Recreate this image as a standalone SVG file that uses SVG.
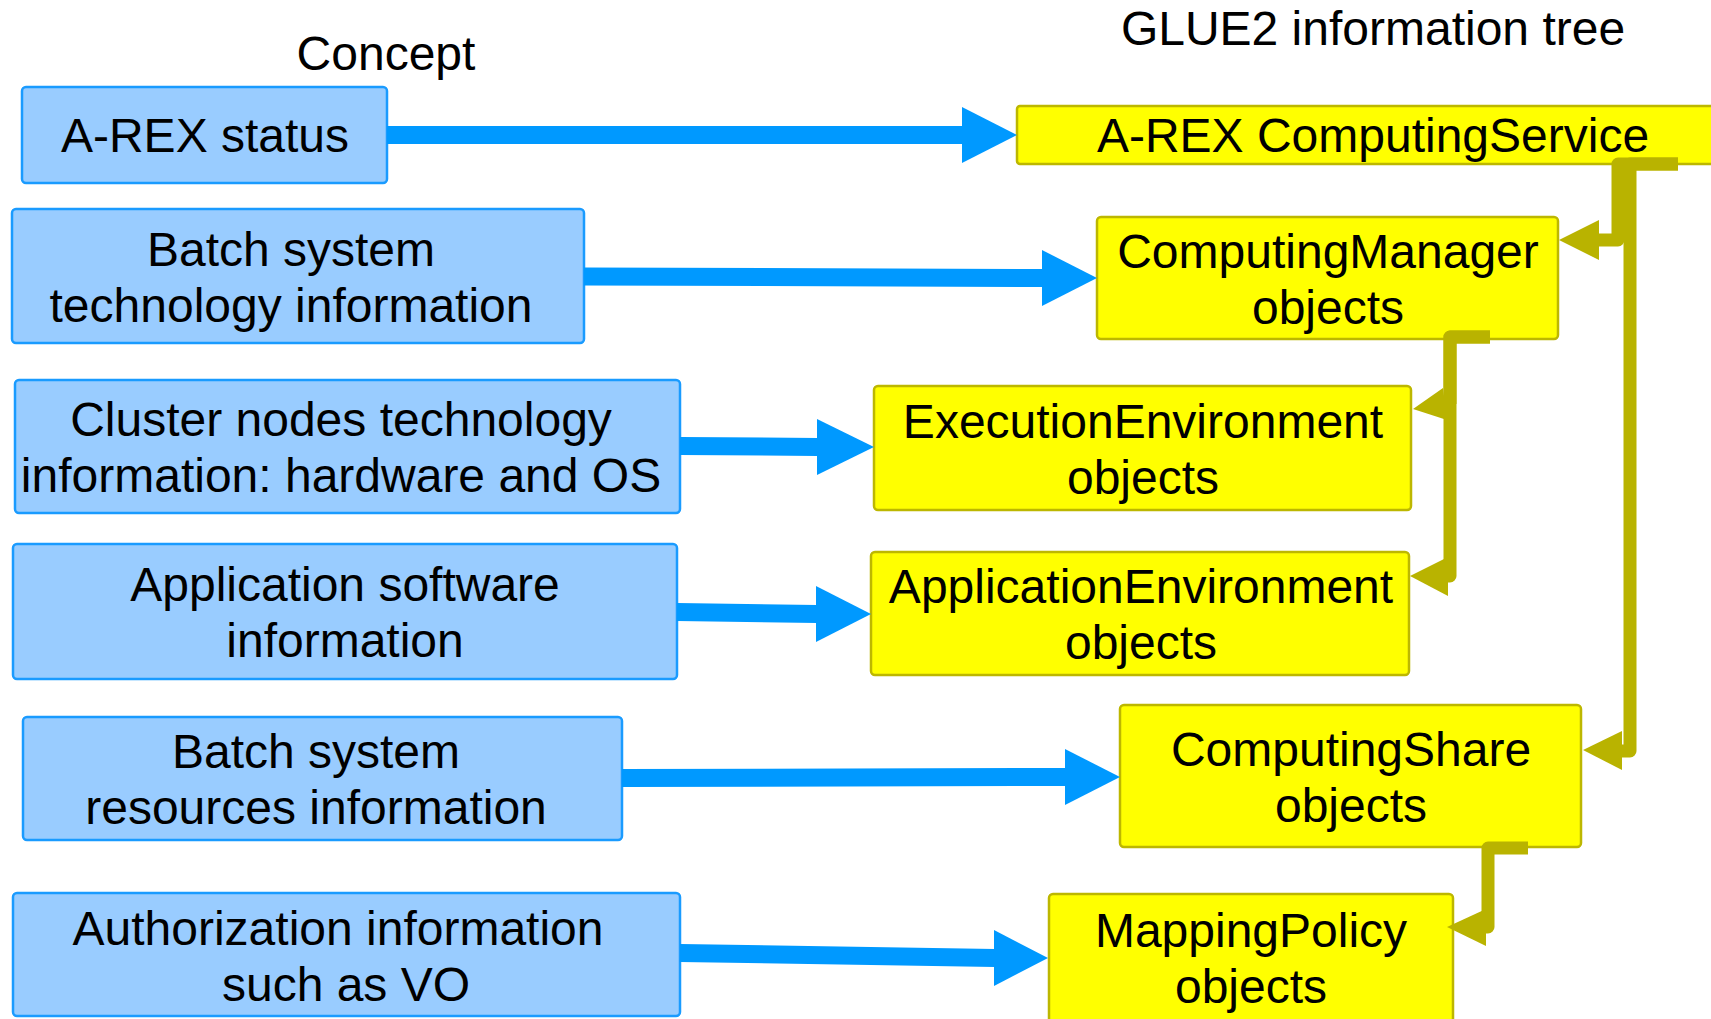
<svg xmlns="http://www.w3.org/2000/svg" width="1711" height="1019" viewBox="0 0 1711 1019">
  <style>
    text { font-family: "Liberation Sans", Arial, sans-serif; font-size: 48px; fill: #000; text-anchor: middle; }
    .concept { fill: #99CCFF; stroke: #1A9BFF; stroke-width: 2.5; }
    .glue { fill: #FFFF00; stroke: #BDB700; stroke-width: 2.5; }
    .flow { stroke: #0099FF; stroke-width: 18; fill: none; }
    .flowhead { fill: #0099FF; }
    .tree { stroke: #B9B300; stroke-width: 13; fill: none; stroke-linejoin: round; }
    .treehead { fill: #B9B300; }
  </style>
  <rect width="1711" height="1019" fill="#FFFFFF"/>

  <!-- column headings -->
  <g id="headings">
    <text x="386" y="70">Concept</text>
    <text x="1373" y="45">GLUE2 information tree</text>
  </g>

  <!-- concept boxes (left column) -->
  <g id="arex-status">
    <rect class="concept" x="22" y="87" width="365" height="96" rx="4"/>
    <text x="205" y="152">A-REX status</text>
  </g>
  <g id="batch-tech">
    <rect class="concept" x="12" y="209" width="572" height="134" rx="4"/>
    <text x="291" y="266">Batch system</text>
    <text x="291" y="322">technology information</text>
  </g>
  <g id="cluster-nodes">
    <rect class="concept" x="15" y="380" width="665" height="133" rx="4"/>
    <text x="341" y="436">Cluster nodes technology</text>
    <text x="341" y="492">information: hardware and OS</text>
  </g>
  <g id="app-software">
    <rect class="concept" x="13" y="544" width="664" height="135" rx="4"/>
    <text x="345" y="601">Application software</text>
    <text x="345" y="657">information</text>
  </g>
  <g id="batch-resources">
    <rect class="concept" x="23" y="717" width="599" height="123" rx="4"/>
    <text x="316" y="768">Batch system</text>
    <text x="316" y="824">resources information</text>
  </g>
  <g id="authorization">
    <rect class="concept" x="13" y="893" width="667" height="123" rx="4"/>
    <text x="338" y="945">Authorization information</text>
    <text x="346" y="1001">such as VO</text>
  </g>

  <!-- GLUE2 object boxes (right column) -->
  <g id="computing-service">
    <rect class="glue" x="1017" y="106" width="720" height="58" rx="3"/>
    <text x="1373" y="152">A-REX ComputingService</text>
  </g>
  <g id="computing-manager">
    <rect class="glue" x="1097" y="217" width="461" height="122" rx="4"/>
    <text x="1328" y="268">ComputingManager</text>
    <text x="1328" y="324">objects</text>
  </g>
  <g id="execution-environment">
    <rect class="glue" x="874" y="386" width="537" height="124" rx="4"/>
    <text x="1143" y="438">ExecutionEnvironment</text>
    <text x="1143" y="494">objects</text>
  </g>
  <g id="application-environment">
    <rect class="glue" x="871" y="552" width="538" height="123" rx="4"/>
    <text x="1141" y="603">ApplicationEnvironment</text>
    <text x="1141" y="659">objects</text>
  </g>
  <g id="computing-share">
    <rect class="glue" x="1120" y="705" width="461" height="142" rx="4"/>
    <text x="1351" y="766">ComputingShare</text>
    <text x="1351" y="822">objects</text>
  </g>
  <g id="mapping-policy">
    <rect class="glue" x="1049" y="894" width="404" height="140" rx="4"/>
    <text x="1251" y="947">MappingPolicy</text>
    <text x="1251" y="1003">objects</text>
  </g>

  <g id="connectors">
    <!-- concept to GLUE2 object mapping -->
    <line class="flow" x1="387" y1="135" x2="963" y2="135"/>
    <polygon class="flowhead" points="962,107 1017,135 962,163"/>
    <line class="flow" x1="584" y1="276.5" x2="1043" y2="278"/>
    <polygon class="flowhead" points="1042,250 1097,278 1042,306"/>
    <line class="flow" x1="680" y1="446" x2="818" y2="447"/>
    <polygon class="flowhead" points="817,419 874,447 817,475"/>
    <line class="flow" x1="677" y1="612" x2="817" y2="614"/>
    <polygon class="flowhead" points="816,586 871,614 816,642"/>
    <line class="flow" x1="622" y1="778" x2="1066" y2="777"/>
    <polygon class="flowhead" points="1065,749 1120,777 1065,805"/>
    <line class="flow" x1="680" y1="953" x2="995" y2="958"/>
    <polygon class="flowhead" points="994,930 1048,958 994,986"/>

    <!-- GLUE2 tree: parent to child links -->
    <path class="tree" d="M1678,164 H1618 V240 H1598"/>
    <polygon class="treehead" points="1559,240 1599,220 1599,260"/>
    <path class="tree" d="M1678,164 H1630 V751 H1621"/>
    <polygon class="treehead" points="1583,750 1622,731 1622,770"/>
    <path class="tree" d="M1490,337 H1450 V404"/>
    <polygon class="treehead" points="1413,409 1443,388 1447,420"/>
    <path class="tree" d="M1490,337 H1450 V576 H1447"/>
    <polygon class="treehead" points="1410,576 1448,557 1448,596"/>
    <path class="tree" d="M1528,848 H1488 V927 H1485"/>
    <polygon class="treehead" points="1447,927 1486,909 1486,946"/>
  </g>
</svg>
